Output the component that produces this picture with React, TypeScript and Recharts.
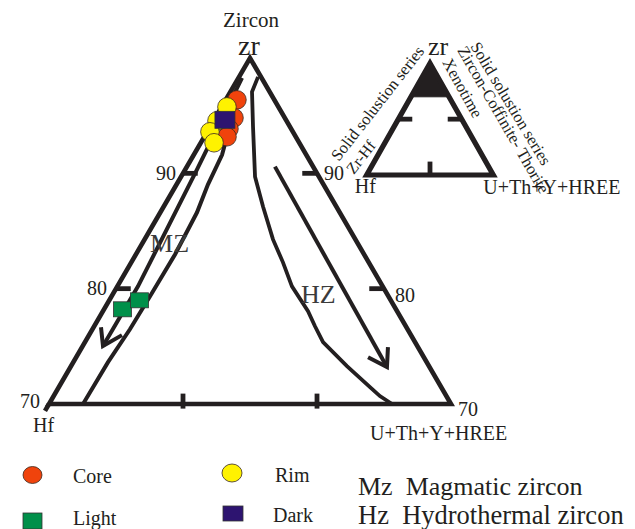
import React from 'react';
import { ScatterChart, Scatter, XAxis, YAxis, ReferenceDot, Legend } from 'recharts';

// ---------- data (ternary compositions: Zr, Hf, U+Th+Y+HREE, summing to 100) ----------
type T = { zr: number; hf: number; u: number };
const t = (zr: number, hf: number, u: number): T => ({ zr, hf, u });

// zircon analyses
const coreData: T[] = [t(96.37, 2.79, 0.84), t(94.81, 3.79, 1.4), t(93.86, 4.64, 1.5), t(93.17, 5.13, 1.7)];
const rimData: T[] = [t(95.76, 3.84, 0.4), t(94.55, 5.19, 0.26), t(93.6, 6.19, 0.21), t(92.65, 6.36, 0.99)];
const darkData: T[] = [t(94.64, 4.55, 0.81)];
const lightData: T[] = [t(78.21, 20.41, 1.38), t(78.99, 18.75, 2.26)];

// main (zoomed, Zr 70-100) triangle frame and ticks
const mainFrame: T[] = [t(85, 15, 0), t(70, 30, 0), t(70, 0, 30), t(100, 0, 0), t(85, 15, 0)];
const mainLeftTail: T[] = [t(70, 30, 0), t(69.4, 30.6, 0)];
const mainTicks: T[][] = [
  [t(90, 10, 0), t(90, 8.9, 1.1)],
  [t(80, 20, 0), t(80, 18.9, 1.1)],
  [t(90, 0, 10), t(90, 1.1, 8.9)],
  [t(80, 0, 20), t(80, 1.1, 18.9)],
  [t(69.6, 20.2, 10.2), t(70.9, 19.55, 9.55)],
  [t(69.6, 10.2, 20.2), t(70.9, 9.55, 19.55)],
];
// magmatic zircon field (MZ)
const mzArrowShaft: T[] = [t(98.27, 1.46, 0.27), t(90.32, 8.8, 0.88), t(80.2, 18.26, 1.54), t(75.02, 23.46, 1.52)];
const mzArrowHead: T[] = [t(76.66, 22.79, 0.55), t(75.02, 23.46, 1.52), t(75.97, 21.57, 2.46)];
const mzBoundary: T[] = [
  t(96.71, 2.54, 0.75), t(91.61, 6.28, 2.11), t(89.02, 8.63, 2.35), t(86.6, 10.66, 2.74), t(82.97, 14.11, 2.92),
  t(79.34, 17.79, 2.87), t(76.48, 20.72, 2.8), t(73.63, 23.78, 2.59), t(70, 27.46, 2.54),
];
// hydrothermal zircon field (HZ)
const hzBoundary: T[] = [
  t(98.36, 0.22, 1.42), t(97.06, 1.32, 1.62), t(94.03, 2.76, 3.21), t(89.71, 4.77, 5.52), t(87.12, 5.47, 7.41),
  t(84.27, 6.15, 9.58), t(82.28, 6.4, 11.32), t(80.2, 6.77, 13.03), t(78.04, 6.65, 15.31), t(76.74, 6.78, 16.48),
  t(75.36, 6.87, 17.77), t(73.29, 6.12, 20.59), t(71.47, 5.31, 23.22), t(70.69, 4.96, 24.35), t(70, 4.4, 25.6),
];
const hzArrowShaft: T[] = [t(90.58, 2.85, 6.57), t(73.2, 3.18, 23.62)];
const hzArrowHead: T[] = [t(74.06, 4.16, 21.78), t(73.2, 3.18, 23.62), t(74.93, 2.24, 22.83)];
const mzLabelAt: T = t(83.18, 15.87, 0.95);
const hzLabelAt: T = t(78.76, 6.81, 14.43);

// inset (full 0-100) triangle
const insetFrame: T[] = [t(50, 50, 0), t(0, 100, 0), t(0, 0, 100), t(100, 0, 0), t(50, 50, 0)];
const insetZoomArea: T[] = [t(100, 0, 0), t(70, 30, 0), t(70, 0, 30), t(100, 0, 0)];
const insetTicks: T[][] = [
  [t(50, 50, 0), t(50, 39, 11)],
  [t(50, 0, 50), t(50, 11, 39)],
  [t(0, 50, 50), t(12, 44, 44)],
];

// text
const apexName = 'Zircon';
const vertexLabels = ['zr', 'Hf', 'U+Th+Y+HREE'];
const tickLabels = ['90', '80', '70'];
const fieldLabels = ['MZ', 'HZ'];
const seriesNames = ['Core', 'Rim', 'Light', 'Dark'];
const seriesColors = ['#f0430c', '#fff200', '#00904a', '#2d1470'];
const fieldLegend = ['Mz\u00a0\u00a0Magmatic zircon', 'Hz\u00a0\u00a0Hydrothermal zircon'];
const insetTexts = ['Solid solustion series', 'Zr-Hf', 'Solid solustion series', 'Zircon-Coffinite- Thorite', 'Xenotime'];

// ---------- rendering ----------
const INK = '#231f20';
const FONT = '"Liberation Serif", "Times New Roman", serif';
const xy = (p: T) => ({ x: p.u + p.zr / 2, y: p.zr });

const MAIN_X: [number, number] = [31.343, 78.731];
const MAIN_Y: [number, number] = [59.161, 105.029];
const INSET_X: [number, number] = [-289.65, 211.93];
const INSET_Y: [number, number] = [-316.92, 156.67];

const noShape = () => <g />;

const circleShape = (fill: string) => (p: any) => (
  <circle cx={p.cx} cy={p.cy} r={9.3} fill={fill} stroke="#3a2a20" strokeWidth={0.8} />
);
const rectShape = (fill: string, w: number, h: number) => (p: any) => (
  <rect x={p.cx - w / 2} y={p.cy - h / 2} width={w} height={h} fill={fill} stroke="#333" strokeWidth={0.8} />
);

function polyline(key: string, pts: T[], axis: string, width: number, fill?: string) {
  return (
    <Scatter
      key={key}
      data={pts.map(xy)}
      xAxisId={axis}
      yAxisId={axis}
      line={{ stroke: INK, strokeWidth: width, strokeLinejoin: 'miter', strokeLinecap: 'butt', fill: fill || 'none' }}
      shape={noShape}
      legendType="none"
      isAnimationActive={false}
    />
  );
}

function label(
  key: string,
  at: T,
  axis: string,
  text: string,
  dx: number,
  dy: number,
  size: number,
  anchor: 'start' | 'middle' | 'end' = 'start',
  rotate = 0,
  color = INK,
) {
  const p = xy(at);
  return (
    <ReferenceDot
      key={key}
      x={p.x}
      y={p.y}
      r={0}
      xAxisId={axis}
      yAxisId={axis}
      ifOverflow="visible"
      shape={(s: any) => {
        const x = s.cx + dx;
        const y = s.cy + dy;
        return (
          <text
            x={x}
            y={y}
            fontFamily={FONT}
            fontSize={size}
            fill={color}
            textAnchor={anchor}
            transform={rotate ? `rotate(${rotate} ${x} ${y})` : undefined}
          >
            {text}
          </text>
        );
      }}
    />
  );
}

const renderLegend = () => (
  <svg width={635} height={79} style={{ display: 'block' }}>
    <ellipse cx={32.5} cy={25} rx={9.5} ry={8.5} fill={seriesColors[0]} stroke="#3a2a20" strokeWidth={0.8} />
    <text x={73} y={33} fontFamily={FONT} fontSize={20} fill={INK}>{seriesNames[0]}</text>
    <ellipse cx={232} cy={23} rx={10} ry={9} fill={seriesColors[1]} stroke="#3a2a20" strokeWidth={0.8} />
    <text x={275} y={32} fontFamily={FONT} fontSize={20} fill={INK}>{seriesNames[1]}</text>
    <rect x={23} y={63} width={19} height={16} fill={seriesColors[2]} stroke="#333" strokeWidth={0.8} />
    <text x={73} y={75} fontFamily={FONT} fontSize={20} fill={INK}>{seriesNames[2]}</text>
    <rect x={223} y={56} width={20} height={15} fill={seriesColors[3]} stroke="#333" strokeWidth={0.8} />
    <text x={273} y={72} fontFamily={FONT} fontSize={20} fill={INK}>{seriesNames[3]}</text>
    <text x={358} y={45} fontFamily={FONT} fontSize={26} fill={INK}>{fieldLegend[0]}</text>
    <text x={358} y={74} fontFamily={FONT} fontSize={26.5} fill={INK}>{fieldLegend[1]}</text>
  </svg>
);

export default function App() {
  const apex = t(100, 0, 0);
  const bl = t(70, 30, 0);
  const br = t(70, 0, 30);
  const iApex = t(100, 0, 0);
  const iBl = t(0, 100, 0);
  const iBr = t(0, 0, 100);
  return (
    <div style={{ position: 'absolute', left: 0, top: 0, width: 635, height: 529, background: '#fff' }}>
      <ScatterChart width={635} height={529} margin={{ top: 0, right: 0, bottom: 0, left: 0 }}>
        <XAxis xAxisId="main" dataKey="x" type="number" scale="linear" domain={MAIN_X} allowDataOverflow hide />
        <YAxis yAxisId="main" dataKey="y" type="number" scale="linear" domain={MAIN_Y} allowDataOverflow hide />
        <XAxis xAxisId="inset" dataKey="x" type="number" scale="linear" domain={INSET_X} allowDataOverflow hide />
        <YAxis yAxisId="inset" dataKey="y" type="number" scale="linear" domain={INSET_Y} allowDataOverflow hide />

        {polyline('frame', mainFrame, 'main', 4.6)}
        {polyline('tail', mainLeftTail, 'main', 4.6)}
        {mainTicks.map((s, i) => polyline('tick' + i, s, 'main', 4.8))}
        {polyline('mzD', mzBoundary, 'main', 4)}
        {polyline('mzB', mzArrowShaft, 'main', 4)}
        {polyline('mzH', mzArrowHead, 'main', 4)}
        {polyline('hzC', hzBoundary, 'main', 3.8)}
        {polyline('hzS', hzArrowShaft, 'main', 4)}
        {polyline('hzH', hzArrowHead, 'main', 4)}

        {polyline('iFill', insetZoomArea, 'inset', 1, INK)}
        {polyline('iFrame', insetFrame, 'inset', 5.2)}
        {insetTicks.map((s, i) => polyline('itick' + i, s, 'inset', 4.8))}

        <Scatter name={seriesNames[0]} data={coreData.map(xy)} xAxisId="main" yAxisId="main" fill={seriesColors[0]} shape={circleShape(seriesColors[0])} isAnimationActive={false} />
        <Scatter name={seriesNames[1]} data={rimData.map(xy)} xAxisId="main" yAxisId="main" fill={seriesColors[1]} shape={circleShape(seriesColors[1])} isAnimationActive={false} />
        <Scatter name={seriesNames[3]} data={darkData.map(xy)} xAxisId="main" yAxisId="main" fill={seriesColors[3]} shape={rectShape(seriesColors[3], 20, 17)} isAnimationActive={false} />
        <Scatter name={seriesNames[2]} data={lightData.map(xy)} xAxisId="main" yAxisId="main" fill={seriesColors[2]} shape={rectShape(seriesColors[2], 18, 15)} isAnimationActive={false} />

        {label('zircon', apex, 'main', apexName, 1, -31, 21, 'middle')}
        {label('zr', apex, 'main', vertexLabels[0], -1, -3, 28, 'middle')}
        {label('l90', t(90, 10, 0), 'main', tickLabels[0], -7, 7, 20, 'end')}
        {label('l80', t(80, 20, 0), 'main', tickLabels[1], -9, 6, 20, 'end')}
        {label('r90', t(90, 0, 10), 'main', tickLabels[0], 7, 7, 20)}
        {label('r80', t(80, 0, 20), 'main', tickLabels[1], 11, 13, 20)}
        {label('l70', bl, 'main', tickLabels[2], -9, 4, 20, 'end')}
        {label('hf', bl, 'main', vertexLabels[1], -16, 28, 20)}
        {label('r70', br, 'main', tickLabels[2], 7, 12, 20)}
        {label('u', br, 'main', vertexLabels[2], -81, 36, 20)}
        {label('mz', mzLabelAt, 'main', fieldLabels[0], 0, 0, 26, 'start', 0, '#3b3b3b')}
        {label('hz', hzLabelAt, 'main', fieldLabels[1], 0, 0, 26, 'start', 0, '#3b3b3b')}

        {label('izr', iApex, 'inset', vertexLabels[0], 8, -8, 26, 'middle')}
        {label('ihf', iBl, 'inset', vertexLabels[1], -12, 18, 20)}
        {label('iu', iBr, 'inset', vertexLabels[2], -10, 19, 20)}
        {label('is1', iBl, 'inset', insetTexts[0], -28, -13, 16.5, 'start', -52)}
        {label('is2', iBl, 'inset', insetTexts[1], -13, 0, 16, 'start', -52)}
        {label('is3', iApex, 'inset', insetTexts[2], 40, -17, 16.5, 'start', 59)}
        {label('is4', iApex, 'inset', insetTexts[3], 27, -13, 16.5, 'start', 60)}
        {label('is5', iApex, 'inset', insetTexts[4], 12, -1, 16.5, 'start', 61)}

        <Legend
          verticalAlign="middle"
          align="center"
          layout="horizontal"
          wrapperStyle={{ position: 'absolute', left: 0, top: 450, width: 635, height: 79, margin: 0, padding: 0 }}
          content={renderLegend}
        />
      </ScatterChart>
    </div>
  );
}
